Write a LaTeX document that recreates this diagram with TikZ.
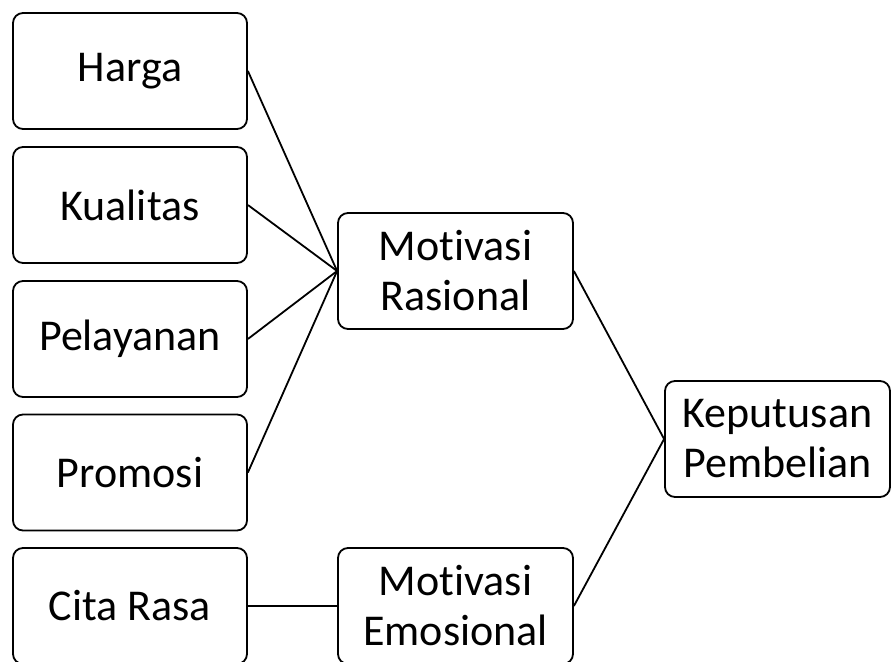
\documentclass[tikz,border=0pt]{standalone}
\usepackage{fontspec}
\setmainfont{Carlito}[Ligatures=NoCommon]
\begin{document}
\begin{tikzpicture}[x=1pt,y=-1pt,
  box/.style={draw=black, line width=1.8pt, rounded corners=10pt, align=center,
    inner sep=0pt, font=\fontsize{44}{50}\selectfont, text=black},
  leftbox/.style={box, minimum width=234pt, minimum height=116pt},
  link/.style={draw=black, line width=1.8pt}]
\useasboundingbox (0,0) rectangle (891,661);
\node[leftbox] (harga) at (130,71) {Harga};
\node[leftbox] (kualitas) at (130,205) {Kualitas};
\node[leftbox] (pelayanan) at (130,339) {Pelayanan};
\node[leftbox] (promosi) at (130,472.5) {Promosi};
\node[leftbox] (cita) at (130,606) {Cita Rasa};
\node[leftbox, minimum width=235pt] (rasional) at (455.5,271) {Motivasi\\Rasional};
\node[leftbox, minimum width=235pt] (emosional) at (455.5,606) {Motivasi\\Emosional};
\node[box, minimum width=225pt, minimum height=116pt] (keputusan) at (777.5,439) {Keputusan\\Pembelian};
\draw[link] (harga.east) -- (rasional.west);
\draw[link] (kualitas.east) -- (rasional.west);
\draw[link] (pelayanan.east) -- (rasional.west);
\draw[link] (promosi.east) -- (rasional.west);
\draw[link] (cita.east) -- (emosional.west);
\draw[link] (rasional.east) -- (keputusan.west);
\draw[link] (emosional.east) -- (keputusan.west);
\end{tikzpicture}
\end{document}
